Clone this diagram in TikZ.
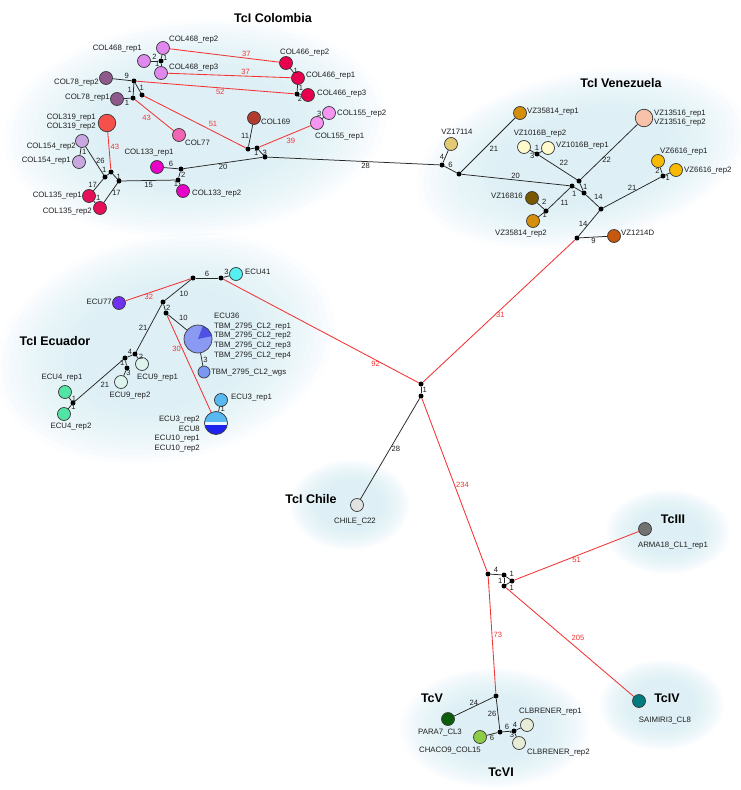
\documentclass[tikz,border=0pt]{standalone}
\usepackage{fontspec}
\setmainfont{Liberation Sans}
\usetikzlibrary{positioning}
\definecolor{hazeCyan}{HTML}{D8F0F6}
\definecolor{linkRed}{HTML}{F23434}
\definecolor{linkBlack}{HTML}{262626}
\definecolor{isoLine}{HTML}{3A3A3A}
\definecolor{labelGray}{HTML}{1E1E1E}
\definecolor{c468}{HTML}{E088EE}
\definecolor{c466}{HTML}{E8004E}
\definecolor{c78}{HTML}{8E5A8C}
\definecolor{c319}{HTML}{F5504A}
\definecolor{c77}{HTML}{F264B4}
\definecolor{c169}{HTML}{B23A2E}
\definecolor{c155}{HTML}{F796F2}
\definecolor{c154}{HTML}{C9A8E2}
\definecolor{c135}{HTML}{E61058}
\definecolor{c133}{HTML}{E800C8}
\definecolor{v17114}{HTML}{E2CA72}
\definecolor{v35814}{HTML}{D4900C}
\definecolor{v1016}{HTML}{FFF9CC}
\definecolor{v13516}{HTML}{F7C2A8}
\definecolor{v16816}{HTML}{7A5800}
\definecolor{v6616}{HTML}{F7BA00}
\definecolor{v1214}{HTML}{C8580E}
\definecolor{e41}{HTML}{55F0F0}
\definecolor{e77}{HTML}{7030F0}
\definecolor{tbmBlue}{HTML}{8A9AF2}
\definecolor{tbmDark}{HTML}{5050E6}
\definecolor{tbmWgs}{HTML}{7A98F0}
\definecolor{e3sky}{HTML}{58B8F2}
\definecolor{e3deep}{HTML}{1E24EE}
\definecolor{e9}{HTML}{DCF3EE}
\definecolor{e4}{HTML}{52E4A4}
\definecolor{chileGray}{HTML}{E2E2E2}
\definecolor{armaGray}{HTML}{727272}
\definecolor{saimTeal}{HTML}{007C80}
\definecolor{paraGreen}{HTML}{0A5E0A}
\definecolor{chacoGreen}{HTML}{8CCC48}
\definecolor{clbPale}{HTML}{E6ECD6}
\tikzset{
    iso/.style={circle,draw=isoLine,line width=0.7pt,minimum size=13pt,inner sep=0pt},
    bigiso/.style={iso,minimum size=17.5pt},
    jn/.style={circle,fill=black,minimum size=5pt,inner sep=0pt},
    lab/.style={font=\fontsize{7.8}{9.6}\selectfont,inner sep=0pt,text=labelGray},
    elab/.style={font=\fontsize{7.6}{8.6}\selectfont,inner sep=1.2pt,text=labelGray},
    rlab/.style={elab,text=linkRed},
    link/.style={draw=linkBlack,line width=0.75pt},
    rlink/.style={draw=linkRed,line width=0.85pt},
    grouptitle/.style={font=\bfseries\fontsize{12.5}{15}\selectfont,inner sep=0pt}
}
\newcommand{\hazeblob}[5]{%
    \foreach \s in {1,0.96,0.92,0.88,0.84,0.80,0.76,0.72,0.68,0.64,0.60,0.56,0.52}
        \fill[hazeCyan,opacity=0.1,rotate around={#5:(#1,#2)}] (#1,#2) ellipse[x radius=\s*#3pt,y radius=\s*#4pt];
}

\begin{document}
\begin{tikzpicture}[x=1pt,y=-1pt]
\fill[white] (0,0) rectangle (740,790);
\useasboundingbox (0,0) rectangle (740,790);

% haze behind the groups
\hazeblob{195}{128}{192}{108}{5}
\hazeblob{582}{158}{168}{85}{12}
\hazeblob{165}{348}{172}{112}{12}
\hazeblob{350}{505}{60}{45}{0}
\hazeblob{668}{532}{62}{42}{0}
\hazeblob{662}{705}{62}{45}{0}
\hazeblob{495}{728}{95}{60}{0}

% group titles
\node[grouptitle] (ttcol) at (273,18) {TcI Colombia};
\node[grouptitle] (ttvz) at (621,83) {TcI Venezuela};
\node[grouptitle] (ttecu) at (55,341) {TcI Ecuador};
\node[grouptitle] (ttchile) at (311,499) {TcI Chile};
\node[grouptitle] (ttiii) at (673,519) {TcIII};
\node[grouptitle] (ttiv) at (667,698) {TcIV};
\node[grouptitle] (ttv) at (432,698) {TcV};
\node[grouptitle] (ttvi) at (501,772) {TcVI};

% TcI Colombia
\node[iso,fill=c468] (col468r2) at (163,48) {};
\node[iso,fill=c468] (col468r1) at (144,61) {};
\node[iso,fill=c468] (col468r3) at (161,73) {};
\node[jn] (j468) at (161,61) {};
\node[iso,fill=c466] (col466r2) at (286,63) {};
\node[iso,fill=c466] (col466r1) at (298,78) {};
\node[iso,fill=c466] (col466r3) at (308,95) {};
\node[jn] (j466) at (297,94) {};
\node[iso,fill=c78] (col78r2) at (106,78) {};
\node[iso,fill=c78] (col78r1) at (117,99) {};
\node[jn] (j78a) at (134,81) {};
\node[jn] (j78b) at (133,98) {};
\node[jn] (j78c) at (142,95) {};
\node[bigiso,fill=c319] (col319) at (107,123) {};
\node[iso,fill=c77] (col77) at (179,135) {};
\node[iso,fill=c169] (col169) at (254,118) {};
\node[iso,fill=c155] (col155r2) at (329,113) {};
\node[iso,fill=c155] (col155r1) at (317,123) {};
\node[jn] (jcolA) at (248,149) {};
\node[jn] (jcolB) at (257,148) {};
\node[jn] (jcolC) at (265,157) {};
\node[iso,fill=c154] (col154r2) at (82,141) {};
\node[iso,fill=c154] (col154r1) at (79,162) {};
\node[jn] (jcolD) at (105,177) {};
\node[jn] (jcolE) at (111,172) {};
\node[jn] (jcolF) at (119,181) {};
\node[iso,fill=c135] (col135r1) at (89,196) {};
\node[iso,fill=c135] (col135r2) at (100,208) {};
\node[iso,fill=c133] (col133r1) at (157,167) {};
\node[iso,fill=c133] (col133r2) at (183,191) {};
\node[jn] (jcolG) at (181,169) {};
\node[jn] (jcolH) at (178,180) {};

\node[lab,anchor=west] (tcol468r2) at (169,40) {COL468\_rep2};
\node[lab,anchor=east] (tcol468r1) at (142,49) {COL468\_rep1};
\node[lab,anchor=west] (tcol468r3) at (169,68) {COL468\_rep3};
\node[lab,anchor=west] (tcol466r2) at (280,53) {COL466\_rep2};
\node[lab,anchor=west] (tcol466r1) at (306,76) {COL466\_rep1};
\node[lab,anchor=west] (tcol466r3) at (317,94) {COL466\_rep3};
\node[lab,anchor=east] (tcol78r2) at (99,83) {COL78\_rep2};
\node[lab,anchor=east] (tcol78r1) at (110,98) {COL78\_rep1};
\node[lab,anchor=east,align=left] (tcol319) at (96,122) {COL319\_rep1\\COL319\_rep2};
\node[lab,anchor=west] (tcol77) at (185,143) {COL77};
\node[lab,anchor=west] (tcol169) at (261,122) {COL169};
\node[lab,anchor=west] (tcol155r2) at (337,114) {COL155\_rep2};
\node[lab,anchor=west] (tcol155r1) at (315,137) {COL155\_rep1};
\node[lab,anchor=east] (tcol154r2) at (76,147) {COL154\_rep2};
\node[lab,anchor=east] (tcol154r1) at (71,161) {COL154\_rep1};
\node[lab] (tcol133r1) at (149,153) {COL133\_rep1};
\node[lab,anchor=west] (tcol133r2) at (192,194) {COL133\_rep2};
\node[lab,anchor=east] (tcol135r1) at (82,196) {COL135\_rep1};
\node[lab,anchor=east] (tcol135r2) at (92,212) {COL135\_rep2};

% TcI Venezuela
\node[iso,fill=v17114] (vz17114) at (451,144) {};
\node[jn] (jvzA) at (442,165) {};
\node[jn] (jvzB) at (459,174) {};
\node[iso,fill=v35814] (vz35814r1) at (520,113) {};
\node[iso,fill=v1016] (vz1016r2) at (524,147) {};
\node[iso,fill=v1016] (vz1016r1) at (548,148) {};
\node[jn] (jvzC) at (537,154) {};
\node[bigiso,fill=v13516] (vz13516) at (644,118) {};
\node[jn] (jvzD) at (579,181) {};
\node[jn] (jvzE) at (572,186) {};
\node[jn] (jvzF) at (584,193) {};
\node[jn] (jvzG) at (601,209) {};
\node[iso,fill=v16816] (vz16816) at (532,198) {};
\node[jn] (jvzH) at (546,211) {};
\node[iso,fill=v35814] (vz35814r2) at (533,221) {};
\node[iso,fill=v6616] (vz6616r1) at (658,161) {};
\node[iso,fill=v6616] (vz6616r2) at (676,170) {};
\node[jn] (jvzI) at (663,176) {};
\node[jn] (jvzJ) at (577,238) {};
\node[iso,fill=v1214] (vz1214d) at (614,236) {};

\node[lab,anchor=west] (tvz35814r1) at (527,112) {VZ35814\_rep1};
\node[lab] (tvz17114) at (457,132) {VZ17114};
\node[lab] (tvz1016r2) at (540,134) {VZ1016B\_rep2};
\node[lab,anchor=west] (tvz1016r1) at (556,146) {VZ1016B\_rep1};
\node[lab,anchor=west,align=left] (tvz13516) at (654,118) {VZ13516\_rep1\\VZ13516\_rep2};
\node[lab,anchor=west] (tvz6616r1) at (660,152) {VZ6616\_rep1};
\node[lab,anchor=west] (tvz6616r2) at (684,171) {VZ6616\_rep2};
\node[lab,anchor=east] (tvz16816) at (523,196) {VZ16816};
\node[lab] (tvz35814r2) at (521,234) {VZ35814\_rep2};
\node[lab,anchor=west] (tvz1214d) at (621,233) {VZ1214D};

% TcI Ecuador
\node[jn] (jecA) at (193,278) {};
\node[jn] (jecB) at (221,278) {};
\node[iso,fill=e41] (ecu41) at (236,274) {};
\node[iso,fill=e77] (ecu77) at (119,303) {};
\node[jn] (jecC) at (163,302) {};
\node[jn] (jecD) at (166,313) {};
\node[iso,fill=tbmBlue,minimum size=28pt,
    path picture={\fill[tbmDark] (path picture bounding box.center) -- ++(12:20pt)
        arc[start angle=12,end angle=70,radius=20pt] -- cycle;}] (tbm) at (198,339) {};
\node[iso,fill=tbmWgs,minimum size=12pt] (tbmwgs) at (204,372) {};
\node[iso,fill=e3sky] (ecu3r1) at (221,400) {};
\node[iso,fill=e3deep,minimum size=23pt,
    path picture={
        \fill[e3sky,rotate around={8:(path picture bounding box.center)}]
            ([xshift=-16pt,yshift=1.5pt]path picture bounding box.center) rectangle
            ([xshift=16pt,yshift=16pt]path picture bounding box.center);
        \fill[white!88!e3sky,rotate around={8:(path picture bounding box.center)}]
            ([xshift=-16pt,yshift=-1.5pt]path picture bounding box.center) rectangle
            ([xshift=16pt,yshift=1.5pt]path picture bounding box.center);}] (ecu3r2) at (216,423) {};
\node[jn] (jecE) at (135,354) {};
\node[jn] (jecF) at (125,358) {};
\node[jn] (jecG) at (127,368) {};
\node[iso,fill=e9] (ecu9r1) at (142,364) {};
\node[iso,fill=e9] (ecu9r2) at (121,382) {};
\node[jn] (jecH) at (73,403) {};
\node[iso,fill=e4] (ecu4r1) at (65,392) {};
\node[iso,fill=e4] (ecu4r2) at (64,414) {};

\node[lab,anchor=west] (tecu41) at (245,272) {ECU41};
\node[lab,anchor=east] (tecu77) at (112,302) {ECU77};
\node[lab,anchor=west,align=left] (ttbm) at (214,336) {ECU36\\TBM\_2795\_CL2\_rep1\\TBM\_2795\_CL2\_rep2\\TBM\_2795\_CL2\_rep3\\TBM\_2795\_CL2\_rep4};
\node[lab,anchor=west] (ttbmwgs) at (211,373) {TBM\_2795\_CL2\_wgs};
\node[lab,anchor=west] (tecu3r1) at (231,398) {ECU3\_rep1};
\node[lab,anchor=east,align=right] (tecu3r2) at (200,434) {ECU3\_rep2\\ECU8\\ECU10\_rep1\\ECU10\_rep2};
\node[lab,anchor=west] (tecu9r1) at (137,378) {ECU9\_rep1};
\node[lab] (tecu9r2) at (130,396) {ECU9\_rep2};
\node[lab] (tecu4r1) at (62,378) {ECU4\_rep1};
\node[lab] (tecu4r2) at (71,427) {ECU4\_rep2};

% centre, TcI Chile, TcIII-TcVI
\node[jn] (jmidA) at (421,384) {};
\node[jn] (jmidB) at (421,396) {};
\node[iso,fill=chileGray] (chile) at (357,505) {};
\node[jn] (jsqA) at (488,574) {};
\node[jn] (jsqB) at (504,575) {};
\node[jn] (jsqC) at (512,581) {};
\node[jn] (jsqD) at (504,586) {};
\node[iso,fill=armaGray] (arma) at (645,529) {};
\node[iso,fill=saimTeal] (saim) at (639,701) {};
\node[jn] (jhybA) at (496,696) {};
\node[iso,fill=paraGreen] (para7) at (448,719) {};
\node[jn] (jhybB) at (500,732) {};
\node[iso,fill=chacoGreen] (chaco) at (480,737) {};
\node[jn] (jhybC) at (514,731) {};
\node[iso,fill=clbPale] (clb1) at (527,725) {};
\node[iso,fill=clbPale] (clb2) at (519,743) {};

\node[lab] (tchile) at (355,522) {CHILE\_C22};
\node[lab] (tarma) at (673,546) {ARMA18\_CL1\_rep1};
\node[lab] (tsaim) at (665,721) {SAIMIRI3\_CL8};
\node[lab] (tpara7) at (440,733) {PARA7\_CL3};
\node[lab] (tchaco) at (450,751) {CHACO9\_COL15};
\node[lab,anchor=west] (tclb1) at (519,712) {CLBRENER\_rep1};
\node[lab,anchor=west] (tclb2) at (527,753) {CLBRENER\_rep2};

% links, Colombia
\draw[link] (col468r2) -- node[elab,right,pos=0.8] {1} (j468);
\draw[link] (j468) -- node[elab,above] {2} (col468r1);
\draw[link] (j468) -- node[elab,left,pos=0.2] {1} (col468r3);
\draw[rlink] (col468r2) -- node[rlab,above,pos=0.7] {37} (col466r2);
\draw[rlink] (col468r3) -- node[rlab,above,pos=0.63] {37} (col466r1);
\draw[link] (col466r2) -- node[elab,right] {1} (col466r1);
\draw[link] (col466r1) -- node[elab,right] {1} (j466);
\draw[link] (j466) -- node[elab,below,pos=0.2] {2} (col466r3);
\draw[link] (col78r2) -- node[elab,above,pos=0.75] {9} (j78a);
\draw[rlink] (j78a) -- node[rlab,below,pos=0.53] {52} (j466);
\draw[link] (j78a) -- node[elab,left] {1} (j78b);
\draw[link] (j78a) -- node[elab,right] {1} (j78c);
\draw[link] (j78b) -- node[elab,below] {1} (col78r1);
\draw[rlink] (j78b) -- node[rlab,below left,pos=0.45] {43} (col77);
\draw[rlink] (j78c) -- node[rlab,above right,pos=0.62] {51} (jcolA);
\draw[link] (jcolA) -- node[elab,left] {11} (col169);
\draw[link] (jcolA) -- node[elab,below right] {1} (jcolB);
\draw[rlink] (jcolB) -- node[rlab,below right,pos=0.5] {39} (col155r1);
\draw[link] (col155r1) -- node[elab,above left] {3} (col155r2);
\draw[link] (jcolB) -- node[elab,right] {3} (jcolC);
\draw[link] (jcolC) -- node[elab,below] {20} (jcolG);
\draw[link] (jcolC) -- node[elab,below,pos=0.57] {28} (jvzA);
\draw[link] (jcolG) -- node[elab,above] {6} (col133r1);
\draw[link] (jcolG) -- node[elab,right] {2} (jcolH);
\draw[link] (jcolH) -- node[elab,left] {1} (col133r2);
\draw[link] (jcolH) -- node[elab,below] {15} (jcolF);
\draw[link] (jcolF) -- node[elab,right] {1} (jcolE);
\draw[rlink] (jcolE) -- node[rlab,right,pos=0.6] {43} (col319);
\draw[link] (jcolE) -- node[elab,above left] {1} (jcolD);
\draw[link] (jcolD) -- node[elab,right] {26} (col154r2);
\draw[link] (col154r2) -- node[elab,right] {1} (col154r1);
\draw[link] (jcolD) -- node[elab,left] {17} (col135r1);
\draw[link] (jcolF) -- node[elab,right] {17} (col135r2);
\draw[link] (col135r1) -- node[elab,above right] {1} (col135r2);

% links, Venezuela
\draw[link] (jvzA) -- node[elab,left] {4} (vz17114);
\draw[link] (jvzA) -- node[elab,above] {6} (jvzB);
\draw[link] (jvzB) -- node[elab,below right] {21} (vz35814r1);
\draw[link] (jvzB) -- node[elab,above] {20} (jvzE);
\draw[link] (jvzC) -- node[elab,below] {3} (vz1016r2);
\draw[link] (jvzC) -- node[elab,above left] {1} (vz1016r1);
\draw[link] (jvzC) -- node[elab,above right] {22} (jvzD);
\draw[link] (jvzD) -- node[elab,right,pos=0.35] {22} (vz13516);
\draw[link] (jvzD) -- node[elab,right] {1} (jvzF);
\draw[link] (jvzE) -- node[elab,below left] {1} (jvzF);
\draw[link] (jvzE) -- node[elab,below right] {11} (jvzH);
\draw[link] (jvzH) -- node[elab,above right] {2} (vz16816);
\draw[link] (jvzH) -- node[elab,right] {1} (vz35814r2);
\draw[link] (jvzF) -- node[elab,above right] {14} (jvzG);
\draw[link] (jvzG) -- node[elab,above] {21} (jvzI);
\draw[link] (jvzI) -- node[elab,left] {2} (vz6616r1);
\draw[link] (jvzI) -- node[elab,below] {1} (vz6616r2);
\draw[link] (jvzG) -- node[elab,left] {14} (jvzJ);
\draw[link] (jvzJ) -- node[elab,below] {9} (vz1214d);
\draw[rlink] (jvzJ) -- node[rlab,right,pos=0.53] {31} (jmidA);

% links, Ecuador
\draw[link] (jecA) -- node[elab,above] {6} (jecB);
\draw[link] (jecB) -- node[elab,above] {3} (ecu41);
\draw[rlink] (jecB) -- node[rlab,below,pos=0.78] {92} (jmidA);
\draw[rlink] (jecA) -- node[rlab,below,pos=0.64] {32} (ecu77);
\draw[link] (jecA) -- node[elab,below right] {10} (jecC);
\draw[link] (jecC) -- node[elab,right] {2} (jecD);
\draw[link] (jecD) -- node[elab,above right] {10} (tbm);
\draw[rlink] (jecD) -- node[rlab,left,pos=0.35] {30} (ecu3r2);
\draw[link] (tbm) -- node[elab,right] {3} (tbmwgs);
\draw[link] (ecu3r1) -- node[elab,right] {1} (ecu3r2);
\draw[link] (jecC) -- node[elab,left] {21} (jecE);
\draw[link] (jecE) -- node[elab,above] {4} (jecF);
\draw[link] (jecE) -- node[elab,right] {2} (ecu9r1);
\draw[link] (jecF) -- node[elab,left] {1} (jecG);
\draw[link] (jecG) -- node[elab,right] {3} (ecu9r2);
\draw[link] (jecF) -- node[elab,below right] {21} (jecH);
\draw[link] (jecH) -- node[elab,right] {1} (ecu4r1);
\draw[link] (jecH) -- node[elab,right] {1} (ecu4r2);

% links, centre and lower groups
\draw[link] (jmidA) -- node[elab,right] {1} (jmidB);
\draw[link] (jmidB) -- node[elab,right] {28} (chile);
\draw[rlink] (jmidB) -- node[rlab,right] {234} (jsqA);
\draw[link] (jsqA) -- node[elab,above] {4} (jsqB);
\draw[link] (jsqB) -- node[elab,above right] {1} (jsqC);
\draw[link] (jsqB) -- node[elab,left] {1} (jsqD);
\draw[link] (jsqD) -- node[elab,below right] {1} (jsqC);
\draw[rlink] (jsqC) -- node[rlab,below] {51} (arma);
\draw[rlink] (jsqD) -- node[rlab,above right] {205} (saim);
\draw[rlink] (jsqA) -- node[rlab,right] {73} (jhybA);
\draw[link] (jhybA) -- node[elab,above] {24} (para7);
\draw[link] (jhybA) -- node[elab,left] {26} (jhybB);
\draw[link] (jhybB) -- node[elab,below] {6} (chaco);
\draw[link] (jhybB) -- node[elab,above] {6} (jhybC);
\draw[link] (jhybC) -- node[elab,above left] {4} (clb1);
\draw[link] (jhybC) -- node[elab,left] {3} (clb2);
\end{tikzpicture}
\end{document}
